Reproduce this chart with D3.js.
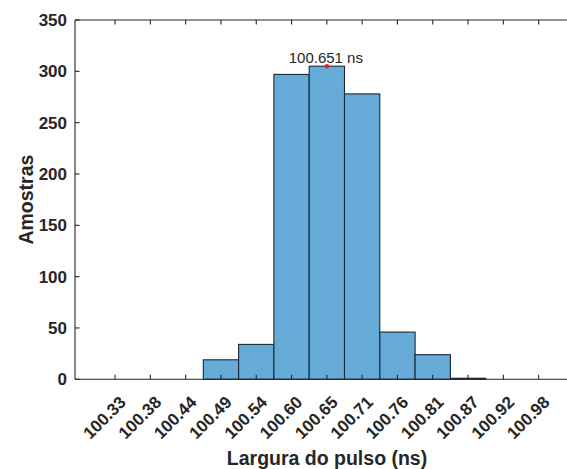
<!DOCTYPE html>
<html>
<head>
<meta charset="utf-8">
<script src="https://cdn.jsdelivr.net/npm/d3@7"></script>
<style>
  body { margin: 0; background: #fff; }
  text { font-family: "Liberation Sans", Arial, sans-serif; fill: #262626; }
</style>
</head>
<body>
<div id="chart"></div>
<script>
// histogram bins (tick labels at bin centres) and counts
var binLabels = ["100.33", "100.38", "100.44", "100.49", "100.54", "100.60", "100.65",
                 "100.71", "100.76", "100.81", "100.87", "100.92", "100.98"];
var counts = [0, 0, 0, 19, 34, 297, 305, 278, 46, 24, 1, 0, 0];
var yTicks = [0, 50, 100, 150, 200, 250, 300, 350];

// data tip on the peak bin
var peakLabel = "100.65";
var peakCount = 305;
var peakText = "100.651 ns";

var svgWidth = 567;
var svgHeight = 469;

// right edge of the axes box sits just past the picture edge
var box = { left: 75, right: 567.5, top: 20, bottom: 379.3 };

var svg = d3.select("#chart")
  .append("svg")
  .attr("width", svgWidth)
  .attr("height", svgHeight);

// x: one band per bin
var xScale = d3.scaleBand()
  .domain(binLabels)
  .range([97.4, 556.3])
  .paddingInner(0)
  .paddingOuter(0);

var yScale = d3.scaleLinear()
  .domain([0, 350])
  .range([box.bottom, box.top]);

var bins = binLabels.map(function(d, i) { return { label: d, count: counts[i] }; });

// bars
svg.append("g")
  .selectAll("rect")
  .data(bins.filter(d => d.count > 0))
  .enter()
  .append("rect")
  .attr("x", d => xScale(d.label))
  .attr("y", d => yScale(d.count))
  .attr("width", xScale.bandwidth())
  .attr("height", d => yScale(0) - yScale(d.count))
  .attr("fill", "#66aad7")
  .attr("stroke", "#1c2836")
  .attr("stroke-width", 1.1);

// axes box
var axisColor = "#262626";
var frame = svg.append("g").attr("stroke", axisColor).attr("stroke-width", 1.1);
frame.append("line").attr("x1", box.left).attr("x2", box.right).attr("y1", box.bottom).attr("y2", box.bottom);
frame.append("line").attr("x1", box.left).attr("x2", box.right).attr("y1", box.top).attr("y2", box.top);
frame.append("line").attr("x1", box.left).attr("x2", box.left).attr("y1", box.top).attr("y2", box.bottom);

// x ticks (inward, bottom and top)
var xc = d => xScale(d) + xScale.bandwidth() / 2;
frame.selectAll(".xtb").data(binLabels).enter().append("line")
  .attr("x1", xc).attr("x2", xc)
  .attr("y1", box.bottom).attr("y2", box.bottom - 4.5);
frame.selectAll(".xtt").data(binLabels).enter().append("line")
  .attr("x1", xc).attr("x2", xc)
  .attr("y1", box.top).attr("y2", box.top + 4.5);

// y ticks (inward, left)
frame.selectAll(".ytl").data(yTicks).enter().append("line")
  .attr("x1", box.left).attr("x2", box.left + 4.5)
  .attr("y1", d => yScale(d)).attr("y2", d => yScale(d));

// x tick labels, rotated 45 degrees
svg.append("g")
  .selectAll("text")
  .data(binLabels)
  .enter()
  .append("text")
  .attr("transform", d => `translate(${xc(d) + 12}, ${box.bottom + 24}) rotate(-45)`)
  .attr("text-anchor", "end")
  .attr("font-size", "17px")
  .attr("font-weight", "bold")
  .text(d => d);

// y tick labels
svg.append("g")
  .selectAll("text")
  .data(yTicks)
  .enter()
  .append("text")
  .attr("x", box.left - 8)
  .attr("y", d => yScale(d))
  .attr("dy", "0.36em")
  .attr("text-anchor", "end")
  .attr("font-size", "17px")
  .attr("font-weight", "bold")
  .text(d => d);

// axis titles
svg.append("text")
  .attr("x", 327)
  .attr("y", 465)
  .attr("text-anchor", "middle")
  .attr("font-size", "19.5px")
  .attr("font-weight", "bold")
  .text("Largura do pulso (ns)");

svg.append("text")
  .attr("transform", `translate(33, ${(box.top + box.bottom) / 2}) rotate(-90)`)
  .attr("text-anchor", "middle")
  .attr("font-size", "19.5px")
  .attr("font-weight", "bold")
  .text("Amostras");

// data tip
svg.append("circle")
  .attr("cx", xc(peakLabel))
  .attr("cy", yScale(peakCount))
  .attr("r", 2.2)
  .attr("fill", "#e8202a");

svg.append("text")
  .attr("x", xc(peakLabel) - 1)
  .attr("y", yScale(peakCount) - 3)
  .attr("text-anchor", "middle")
  .attr("font-size", "15px")
  .text(peakText);
</script>
</body>
</html>
